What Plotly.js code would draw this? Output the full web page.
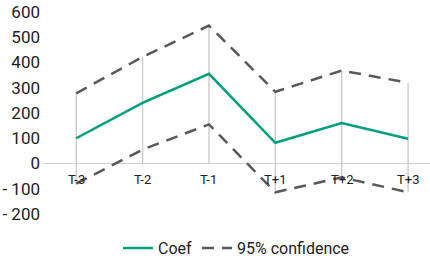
<!DOCTYPE html>
<html><head><meta charset="utf-8">
<script src="https://cdn.plot.ly/plotly-3.0.1.min.js"></script>
<style>html,body{margin:0;padding:0;background:#fff}#c{width:430px;height:259px}</style>
</head><body><div id="c"></div>
<script>
const categories = ["T-3","T-2","T-1","T+1","T+2","T+3"];
const coef  = [100, 240, 355, 82, 160, 98];
const upper = [278, 422, 546, 284, 368, 320];
const lower = [-80, 55, 155, -114, -55, -114];
const yTickVals = [600,500,400,300,200,100,0,-100,-200];
const yTickText = ["600","500","400","300","200","100","0","- 100","- 200"];

const FONT = "'Liberation Sans Narrow', 'Arial Narrow', Roboto, sans-serif";
const idx = categories.map((_, i) => i);

// drop lines: from upper value down to the lower of (lower CI, axis)
const dx = [], dy = [];
idx.forEach(i => { dx.push(i, i, null); dy.push(upper[i], Math.min(lower[i], 0), null); });

const traces = [
  {x: dx, y: dy, mode: "lines", line: {color: "#cfcfcf", width: 1.5}, showlegend: false, hoverinfo: "skip"},
  {x: idx, y: coef, name: "Coef", mode: "lines", line: {color: "#009e7d", width: 2.5}},
  {x: idx, y: upper, name: "95% confidence", mode: "lines", line: {color: "#595959", width: 2.5, dash: "12px,8px"}},
  {x: idx, y: lower, name: "lower", showlegend: false, mode: "lines", line: {color: "#595959", width: 2.5, dash: "12px,8px"}}
];

const annotations = idx.map(i => ({
  x: i, y: 0, xref: "x", yref: "y", text: categories[i], showarrow: false,
  yanchor: "top", yshift: -6, font: {family: FONT, size: 13, color: "#222"}
}));

const layout = {
  width: 430, height: 259,
  margin: {l: 43, r: 0, t: 12, b: 45, autoexpand: false},
  paper_bgcolor: "#fff", plot_bgcolor: "#fff",
  showlegend: true,
  legend: {orientation: "h", x: 0.5, xanchor: "center", yref: "container", y: 0.042, yanchor: "middle",
           font: {family: FONT, size: 16, color: "#222"}, traceorder: "normal"},
  xaxis: {range: [-0.5, 5.33], showgrid: false, zeroline: false, showticklabels: false, showline: false, fixedrange: true},
  yaxis: {range: [-200, 600], tickvals: yTickVals, ticktext: yTickText, showgrid: false,
          zeroline: true, zerolinecolor: "#d0d0d0", zerolinewidth: 1.5, showline: false,
          ticks: "", ticklabelstandoff: 2, automargin: false,
          tickfont: {family: FONT, size: 17, color: "#222"}},
  annotations: annotations
};
Plotly.newPlot("c", traces, layout, {displayModeBar: false, staticPlot: true});
</script></body></html>
